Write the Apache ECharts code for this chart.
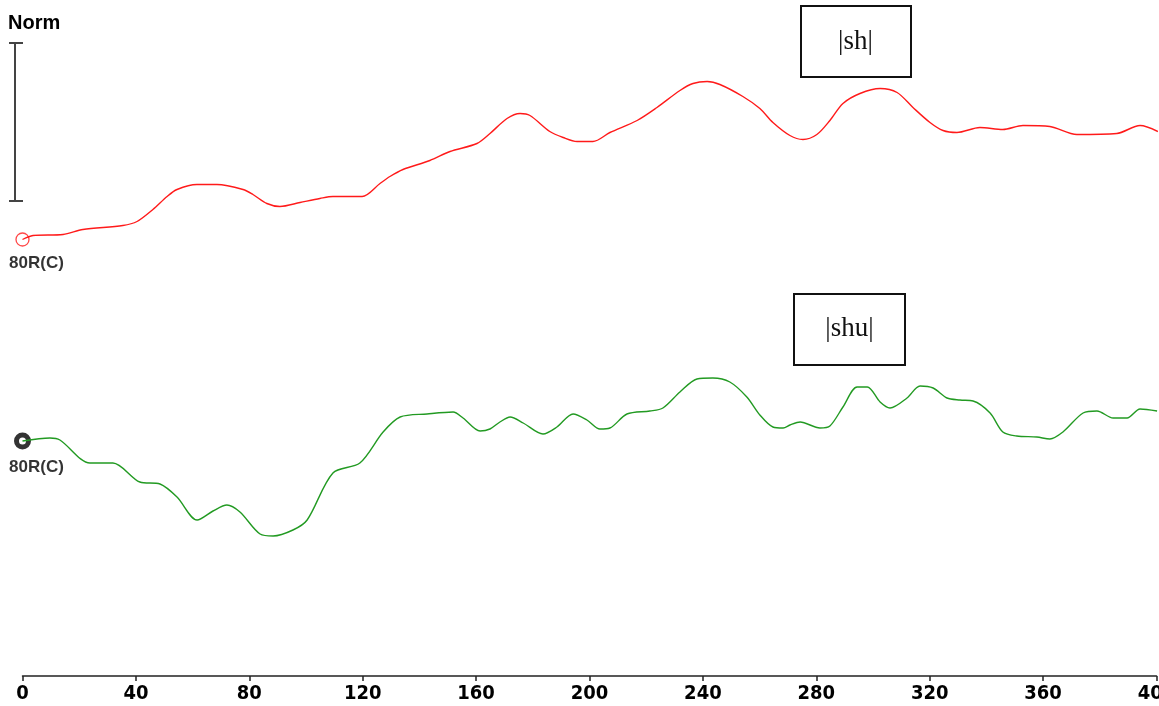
<!DOCTYPE html>
<html>
<head>
<meta charset="utf-8">
<script src="https://cdn.jsdelivr.net/npm/echarts@6/dist/echarts.min.js"></script>
<style>html,body{margin:0;padding:0;background:#fff;}#c{width:1159px;height:706px;}</style>
</head>
<body>
<div id="c"></div>
<script>
// x positions (axis units) and amplitudes for |sh| (red) trace
const shX = [0,3.7,14.3,21.3,35.4,40.4,46,51,54.5,61.5,68.6,77.8,81.3,86.2,90.8,97.9,104.9,109.5,119.8,126.1,129.6,134.2,143.7,150.8,160.3,164.9,170.9,175.5,179,186,190.7,195.6,201.2,207.2,216.8,223.8,231.9,236.5,241.5,246,254.1,260.1,264.7,270.7,275.3,280.2,284.8,289.4,295.4,302.5,308.5,314.1,320.1,324.7,329.6,337.7,345.8,352.9,362.4,371.9,386,394.2,400.5];
const shAmp = [0,4,5,10,14,18,30,43,50,55,55,50,45,36,33,37,41,43,43,56,63,70,79,88,96,106,121,126,124,108,102,98,98,107,119,132,149,156,158,155,143,131,117,104,100,105,119,136,146,151,147,132,117,109,107,112,110,114,113,105,106,114,108];
// x positions and amplitudes for |shu| (green) trace
const shuX = [0,9.7,13.2,23.8,31.9,41.4,48.5,54.5,61.6,67.2,72.1,76.7,83.8,88.4,95.4,100.4,109.5,119,127.2,133.2,142.7,151.9,155.4,161.4,164.9,168.4,172,176.6,183.6,188.5,194.2,199.1,203.7,207.2,213.2,221.3,225.9,231.9,237.9,243.5,249.5,255.5,260.1,264.7,268.3,270.7,274.3,281.3,284.8,289.4,294.4,298,302.5,306,312,316.6,321.2,326.1,330.7,335.3,341.3,345.8,350.7,357.8,362.4,367,374.1,379,384.7,389.6,394.2,400.2];
const shuAmp = [0,3,1,-22,-22,-41,-43,-56,-79,-70,-64,-71,-93,-95,-89,-79,-32,-22,9,24,27,29,23,10,12,19,24,18,7,14,27,21,12,13,27,30,33,49,62,63,59,44,26,14,13,16,19,13,15,34,54,54,39,33,43,55,53,43,41,40,28,9,5,4,2,9,28,30,23,23,32,30];
const xTicks = {min: 0, max: 400, interval: 40};
const seriesNames = ['|sh|', '|shu|'];
const startLabel = '80R(C)';

const zip = (xs, ys) => xs.map((x, i) => [x, ys[i]]);

const chart = echarts.init(document.getElementById('c'), null, {renderer: 'canvas'});
const labelFont = {fontFamily: 'Liberation Sans, Arial, sans-serif', fontSize: 17, fontWeight: 'bold', color: '#000'};

chart.setOption({
  backgroundColor: '#fff',
  animation: false,
  grid: {left: 22.5, right: 2.5, top: 0, bottom: 30, containLabel: false, outerBoundsMode: 'none'},
  xAxis: {
    type: 'value', min: xTicks.min, max: xTicks.max, interval: xTicks.interval,
    axisLine: {show: true, onZero: false, lineStyle: {color: '#222', width: 1.5}},
    axisTick: {show: true, length: 5, lineStyle: {color: '#222', width: 1.5}},
    splitLine: {show: false},
    axisLabel: {show: true, margin: 8, fontFamily: 'Liberation Sans Narrow, DejaVu Sans Condensed, Arial Narrow, sans-serif', fontWeight: 'bold', fontSize: 20, color: '#000', showMaxLabel: true, hideOverlap: false}
  },
  yAxis: [
    {type: 'value', min: -436.5, max: 239.5, show: false, splitLine: {show: false}},
    {type: 'value', min: -235, max: 441, show: false, splitLine: {show: false}}
  ],
  series: [
    {name: seriesNames[0], type: 'line', yAxisIndex: 0, data: zip(shX, shAmp), smooth: 0.3, showSymbol: false,
     lineStyle: {color: '#ff1a1a', width: 1.4}},
    {name: seriesNames[1], type: 'line', yAxisIndex: 1, data: zip(shuX, shuAmp), smooth: 0.3, showSymbol: false,
     lineStyle: {color: '#229a22', width: 1.4}},
    {type: 'scatter', yAxisIndex: 0, data: [[shX[0], shAmp[0]]], symbol: 'circle', symbolSize: 13,
     itemStyle: {color: '#fff', borderColor: '#ff1a1a', borderWidth: 1.3},
     label: Object.assign({show: true, formatter: startLabel, position: 'bottom', distance: 5, offset: [14, 3]}, labelFont)},
    {type: 'scatter', yAxisIndex: 1, data: [[shuX[0], shuAmp[0]]], symbol: 'circle', symbolSize: 12,
     itemStyle: {color: '#fff', borderColor: '#000', borderWidth: 5},
     label: Object.assign({show: true, formatter: startLabel, position: 'bottom', distance: 5, offset: [14, 4]}, labelFont)}
  ],
  graphic: [
    {type: 'text', left: 8, top: 13, style: {text: 'Norm', font: 'bold 20px Liberation Sans, Arial, sans-serif', fill: '#000'}},
    {type: 'line', shape: {x1: 15, y1: 43, x2: 15, y2: 201}, style: {stroke: '#444', lineWidth: 2}},
    {type: 'line', shape: {x1: 9, y1: 43, x2: 23, y2: 43}, style: {stroke: '#444', lineWidth: 2}},
    {type: 'line', shape: {x1: 9, y1: 201, x2: 23, y2: 201}, style: {stroke: '#444', lineWidth: 2}},
    {type: 'rect', shape: {x: 801, y: 6, width: 110, height: 71}, style: {fill: '#fff', stroke: '#111', lineWidth: 2}},
    {type: 'text', x: 855.5, y: 41.5, style: {text: seriesNames[0], font: '27px Liberation Serif, Times New Roman, serif', fill: '#111', align: 'center', verticalAlign: 'middle'}},
    {type: 'rect', shape: {x: 794, y: 294, width: 111, height: 71}, style: {fill: '#fff', stroke: '#111', lineWidth: 2}},
    {type: 'text', x: 849.5, y: 329, style: {text: seriesNames[1], font: '27px Liberation Serif, Times New Roman, serif', fill: '#111', align: 'center', verticalAlign: 'middle'}}
  ]
});
</script>
</body>
</html>
